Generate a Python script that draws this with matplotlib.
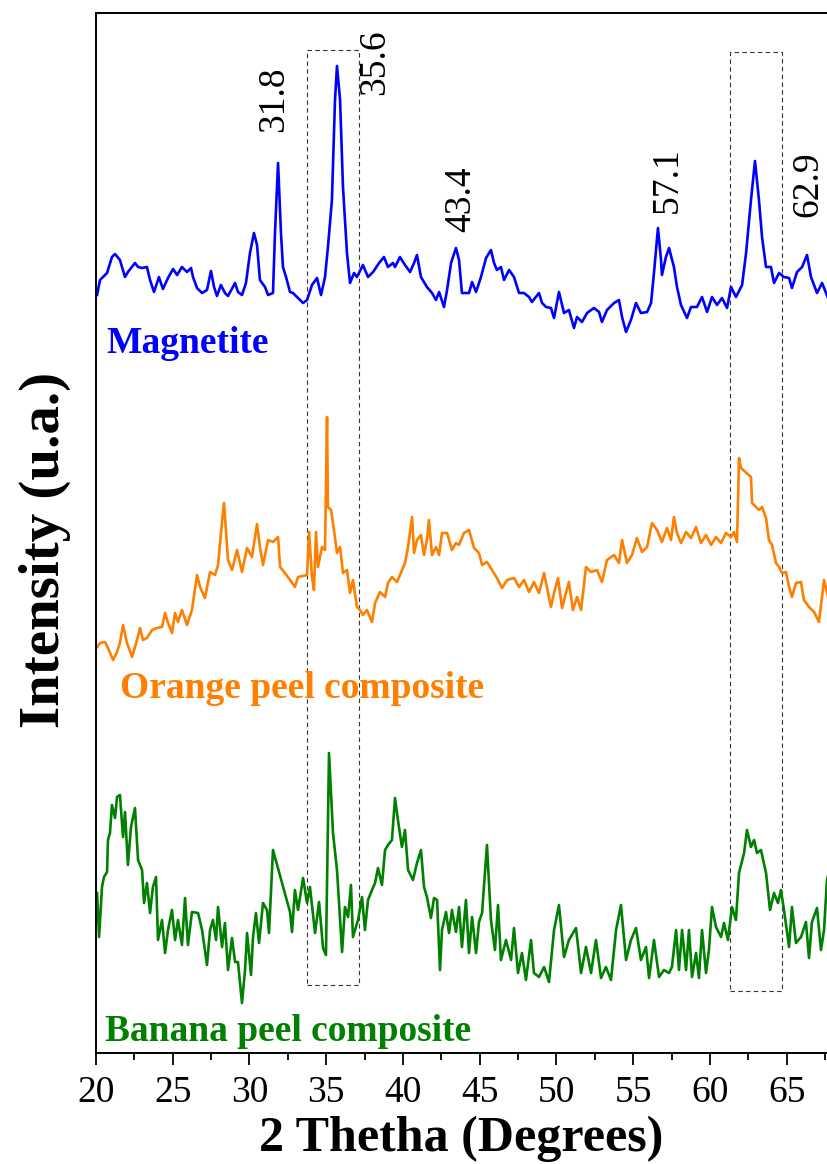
import matplotlib
matplotlib.use("Agg")
import matplotlib.pyplot as plt
from matplotlib.patches import Rectangle
from matplotlib.ticker import MultipleLocator

plt.rcParams['font.family'] = ['Liberation Serif', 'DejaVu Serif']

# XRD patterns, stacked with offsets (arbitrary units)
mag_2theta = [20.07, 20.26, 20.72, 21.04, 21.24, 21.56, 21.89, 22.08, 22.54, 22.74, 23.00, 23.32, 23.52, 23.78,
              24.10, 24.36, 24.69, 25.02, 25.28, 25.60, 25.93, 26.19, 26.32, 26.58, 26.91, 27.23, 27.49, 27.69,
              27.88, 28.14, 28.40, 28.60, 29.06, 29.25, 29.51, 29.77, 30.03, 30.29, 30.49, 30.68, 31.01, 31.21,
              31.53, 31.66, 31.86, 32.05, 32.18, 32.38, 32.64, 32.83, 33.16, 33.49, 33.75, 34.07, 34.40, 34.66,
              34.92, 35.11, 35.37, 35.57, 35.70, 35.90, 36.09, 36.35, 36.55, 36.81, 37.00, 37.39, 37.72, 38.05,
              38.44, 38.76, 39.02, 39.35, 39.48, 39.80, 40.13, 40.46, 40.72, 40.91, 41.17, 41.56, 41.89, 42.15,
              42.35, 42.67, 42.87, 43.13, 43.45, 43.65, 43.84, 44.30, 44.50, 44.76, 45.08, 45.41, 45.73, 45.93,
              46.12, 46.38, 46.58, 46.91, 47.23, 47.56, 47.88, 48.21, 48.40, 48.86, 49.06, 49.32, 49.64, 49.84,
              50.16, 50.49, 50.81, 51.14, 51.34, 51.66, 51.99, 52.44, 52.77, 52.96, 53.29, 53.75, 54.07, 54.27,
              54.53, 54.85, 55.18, 55.50, 55.90, 56.16, 56.35, 56.61, 56.81, 56.87, 57.13, 57.33, 57.65, 57.85,
              58.11, 58.50, 58.76, 59.15, 59.48, 59.81, 60.13, 60.46, 60.78, 61.11, 61.37, 61.69, 62.09, 62.35,
              62.67, 62.93, 63.19, 63.39, 63.65, 63.97, 64.17, 64.50, 64.82, 65.15, 65.34, 65.67, 66.00, 66.32,
              66.58, 66.97, 67.30, 67.69, 67.90]
mag_int = [758, 773, 780, 796, 799, 793, 776, 781, 790, 786, 785, 786, 773, 761,
           776, 764, 775, 784, 778, 786, 781, 785, 776, 765, 760, 763, 782, 766,
           757, 768, 760, 757, 770, 761, 758, 770, 800, 820, 808, 773, 766, 758,
           760, 820, 890, 820, 786, 776, 761, 760, 755, 750, 753, 768, 775, 758,
           776, 806, 853, 953, 987, 953, 866, 800, 770, 780, 776, 788, 776, 781,
           790, 796, 786, 790, 786, 796, 788, 781, 790, 798, 776, 766, 760, 753,
           761, 746, 763, 790, 805, 793, 760, 760, 771, 761, 776, 795, 803, 790,
           783, 786, 773, 783, 776, 760, 760, 756, 751, 760, 750, 746, 745, 735,
           761, 740, 743, 725, 736, 731, 740, 745, 741, 731, 743, 750, 753, 736,
           721, 733, 750, 740, 741, 750, 780, 825, 793, 778, 796, 805, 786, 766,
           748, 735, 746, 746, 756, 741, 756, 748, 755, 745, 766, 756, 768, 800,
           853, 892, 853, 816, 786, 786, 770, 780, 776, 775, 765, 781, 786, 798,
           776, 760, 770, 755, 758]

orange_2theta = [20.07, 20.26, 20.59, 20.78, 21.11, 21.37, 21.56, 21.76, 22.02, 22.35, 22.67, 22.87, 23.06, 23.32,
                 23.65, 23.97, 24.30, 24.50, 24.69, 24.95, 25.15, 25.34, 25.60, 25.93, 26.25, 26.58, 26.78, 27.10,
                 27.43, 27.75, 27.95, 28.21, 28.34, 28.60, 28.86, 29.19, 29.51, 29.84, 30.16, 30.49, 30.68, 30.88,
                 31.21, 31.53, 31.86, 31.99, 32.31, 32.64, 32.96, 33.16, 33.75, 33.88, 34.07, 34.20, 34.33, 34.46,
                 34.72, 34.92, 35.05, 35.11, 35.31, 35.44, 35.70, 35.90, 36.09, 36.35, 36.55, 36.74, 37.00, 37.20,
                 37.39, 37.65, 37.98, 38.18, 38.50, 38.83, 39.02, 39.28, 39.61, 39.80, 40.13, 40.33, 40.59, 40.72,
                 40.91, 41.17, 41.37, 41.56, 41.69, 41.89, 42.15, 42.35, 42.54, 42.87, 43.19, 43.45, 43.65, 43.97,
                 44.30, 44.63, 44.95, 45.15, 45.47, 45.80, 46.12, 46.45, 46.78, 47.23, 47.56, 47.88, 48.21, 48.53,
                 48.86, 49.19, 49.64, 49.84, 50.10, 50.36, 50.81, 51.07, 51.34, 51.60, 51.92, 52.25, 52.64, 52.96,
                 53.29, 53.75, 54.07, 54.27, 54.59, 54.92, 55.24, 55.57, 55.90, 56.22, 56.55, 56.87, 57.20, 57.46,
                 57.65, 57.85, 58.11, 58.44, 58.76, 59.09, 59.41, 59.74, 60.07, 60.39, 60.72, 61.04, 61.37, 61.56,
                 61.76, 61.89, 62.02, 62.67, 62.74, 63.00, 63.19, 63.39, 63.65, 63.84, 64.04, 64.30, 64.50, 64.69,
                 64.95, 65.15, 65.34, 65.60, 65.93, 66.12, 66.45, 66.78, 67.10, 67.43, 67.69, 67.90]
orange_int = [406, 410, 411, 405, 393, 401, 410, 428, 410, 396, 413, 425, 413, 415,
              423, 425, 426, 440, 430, 420, 440, 431, 443, 428, 443, 478, 466, 455,
              481, 478, 488, 531, 550, 493, 483, 503, 481, 505, 496, 529, 506, 488,
              513, 511, 516, 486, 480, 473, 466, 476, 478, 521, 476, 463, 521, 486,
              506, 503, 636, 546, 543, 530, 500, 506, 480, 483, 460, 473, 446, 443,
              438, 443, 431, 450, 461, 456, 470, 476, 471, 478, 490, 506, 536, 500,
              513, 518, 498, 513, 533, 498, 506, 498, 520, 520, 503, 510, 508, 520,
              523, 505, 500, 488, 491, 483, 475, 465, 473, 475, 466, 473, 461, 471,
              460, 480, 446, 460, 475, 445, 471, 443, 456, 443, 486, 481, 483, 471,
              493, 498, 490, 513, 490, 498, 515, 501, 506, 530, 523, 511, 525, 513,
              536, 520, 510, 521, 515, 526, 510, 518, 508, 516, 510, 520, 516, 521,
              511, 595, 585, 576, 550, 546, 543, 546, 535, 513, 508, 490, 486, 480,
              481, 466, 456, 470, 471, 453, 446, 441, 431, 473, 456, 462]

banana_2theta = [20.07, 20.20, 20.39, 20.52, 20.72, 20.78, 20.91, 21.04, 21.24, 21.37, 21.56, 21.76, 21.89, 22.08,
                 22.28, 22.54, 22.74, 23.00, 23.13, 23.32, 23.52, 23.71, 23.91, 24.04, 24.30, 24.50, 24.69, 24.95,
                 25.15, 25.34, 25.60, 25.80, 25.99, 26.25, 26.65, 26.91, 27.23, 27.43, 27.62, 27.82, 27.95, 28.21,
                 28.40, 28.60, 28.86, 29.06, 29.25, 29.51, 29.71, 29.84, 30.10, 30.23, 30.42, 30.62, 30.88, 31.14,
                 31.27, 31.53, 32.64, 32.77, 32.96, 33.16, 33.49, 33.75, 33.94, 34.27, 34.53, 34.79, 34.98, 35.18,
                 35.44, 35.70, 36.03, 36.22, 36.42, 36.61, 36.74, 37.07, 37.33, 37.52, 37.72, 37.98, 38.18, 38.37,
                 38.63, 38.83, 39.02, 39.28, 39.48, 39.67, 39.93, 40.13, 40.33, 40.65, 40.91, 41.17, 41.37, 41.56,
                 41.82, 42.02, 42.22, 42.41, 42.54, 42.80, 43.00, 43.19, 43.45, 43.65, 43.84, 44.10, 44.30, 44.50,
                 44.76, 44.95, 45.15, 45.47, 45.73, 45.99, 46.19, 46.38, 46.71, 47.04, 47.23, 47.49, 47.75, 48.01,
                 48.34, 48.53, 48.86, 49.19, 49.51, 49.84, 50.16, 50.49, 50.81, 51.27, 51.60, 51.92, 52.25, 52.57,
                 52.90, 53.22, 53.55, 53.88, 54.20, 54.53, 54.85, 55.18, 55.50, 55.83, 56.03, 56.35, 56.68, 57.00,
                 57.33, 57.52, 57.79, 57.98, 58.18, 58.44, 58.63, 58.83, 59.09, 59.28, 59.48, 59.74, 59.93, 60.13,
                 60.39, 60.72, 60.91, 61.17, 61.43, 61.69, 61.89, 62.22, 62.41, 62.67, 62.87, 63.06, 63.32, 63.65,
                 63.91, 64.17, 64.43, 64.62, 64.82, 65.15, 65.34, 65.60, 65.93, 66.25, 66.45, 66.64, 66.97, 67.23,
                 67.43, 67.62, 67.90]
banana_int = [160, 116, 166, 176, 181, 213, 220, 248, 235, 256, 258, 216, 241, 188,
              226, 245, 193, 183, 150, 170, 140, 166, 176, 113, 133, 100, 123, 143,
              113, 133, 108, 155, 108, 141, 140, 123, 88, 123, 133, 113, 146, 106,
              130, 83, 115, 91, 91, 50, 83, 120, 78, 116, 140, 110, 150, 143,
              120, 203, 141, 121, 163, 143, 175, 150, 166, 120, 151, 105, 98, 300,
              220, 183, 101, 146, 136, 168, 116, 133, 156, 123, 153, 163, 170, 185,
              168, 203, 208, 213, 255, 233, 206, 223, 183, 173, 190, 203, 166, 156,
              135, 155, 153, 83, 123, 141, 120, 143, 121, 146, 106, 153, 100, 136,
              100, 131, 140, 208, 133, 103, 148, 93, 113, 93, 125, 80, 100, 73,
              113, 80, 76, 86, 71, 123, 148, 96, 113, 125, 80, 106, 80, 113,
              75, 86, 73, 123, 148, 93, 113, 125, 93, 106, 75, 113, 76, 83,
              80, 86, 123, 83, 123, 83, 123, 76, 100, 75, 123, 80, 103, 146,
              126, 116, 130, 113, 146, 133, 180, 200, 223, 206, 213, 200, 203, 180,
              143, 160, 150, 163, 143, 106, 146, 110, 116, 131, 95, 131, 145, 103,
              123, 173, 190]

series_names = ['Magnetite', 'Orange peel composite', 'Banana peel composite']
series_colors = ['#0000ff', '#ff7f00', '#008000']

# peak positions written above the magnetite pattern
peak_labels = ['31.8', '35.6', '43.4', '57.1', '62.9']
peak_label_x = [31.6, 38.2, 43.8, 57.2, 66.4]
peak_label_y = [921, 958, 821, 840, 836]

# dashed windows around the 35.6 and 62.9 reflections
box_x = [(33.73, 37.13), (61.28, 64.67)]
box_y = [(68, 1003), (62, 1001)]

fig = plt.figure(figsize=(8.28, 11.64), dpi=100)
# the axes run past the right edge of the figure, so the pattern is cut at ~67.7 deg
ax = fig.add_axes([0.11594, 0.09536, 0.92508, 0.89347])

ax.plot(mag_2theta, mag_int, color=series_colors[0], lw=1.9)
ax.plot(orange_2theta, orange_int, color=series_colors[1], lw=1.9)
ax.plot(banana_2theta, banana_int, color=series_colors[2], lw=1.9)

for (x0, x1), (y0, y1) in zip(box_x, box_y):
    ax.add_patch(Rectangle((x0, y0), x1 - x0, y1 - y0, fill=False, ls=(0, (4, 3)),
                           lw=0.8, edgecolor='#333333'))

for lab, px, py in zip(peak_labels, peak_label_x, peak_label_y):
    ax.text(px, py, lab, rotation=90, ha='center', va='bottom', fontsize=27)

name_x = [20.65, 21.56, 20.59]
name_y = [700, 355, 12]
for name, c, nx, ny in zip(series_names, series_colors, name_x, name_y):
    ax.text(nx, ny, name, color=c, fontsize=27, fontweight='bold', va='baseline', ha='left')

ax.set_xlim(20, 69.9)
ax.set_ylim(0, 1040)
ax.xaxis.set_major_locator(MultipleLocator(5))
ax.xaxis.set_minor_locator(MultipleLocator(2.5))
ax.tick_params(axis='x', which='major', direction='out', length=8.5, width=1.3, labelsize=27, pad=8)
ax.tick_params(axis='x', which='minor', direction='out', length=5, width=1.3)
ax.set_yticks([])
for s in ax.spines.values():
    s.set_linewidth(1.4)

fig.text(461 / 828, 13 / 1164, '2 Thetha (Degrees)', ha='center', va='baseline',
         fontsize=36, fontweight='bold')
fig.text(45 / 828, 1 - 550 / 1164, 'Intensity (u.a.)', rotation=90, ha='center', va='center',
         fontsize=41, fontweight='bold')

fig.savefig('out.png', dpi=100)
